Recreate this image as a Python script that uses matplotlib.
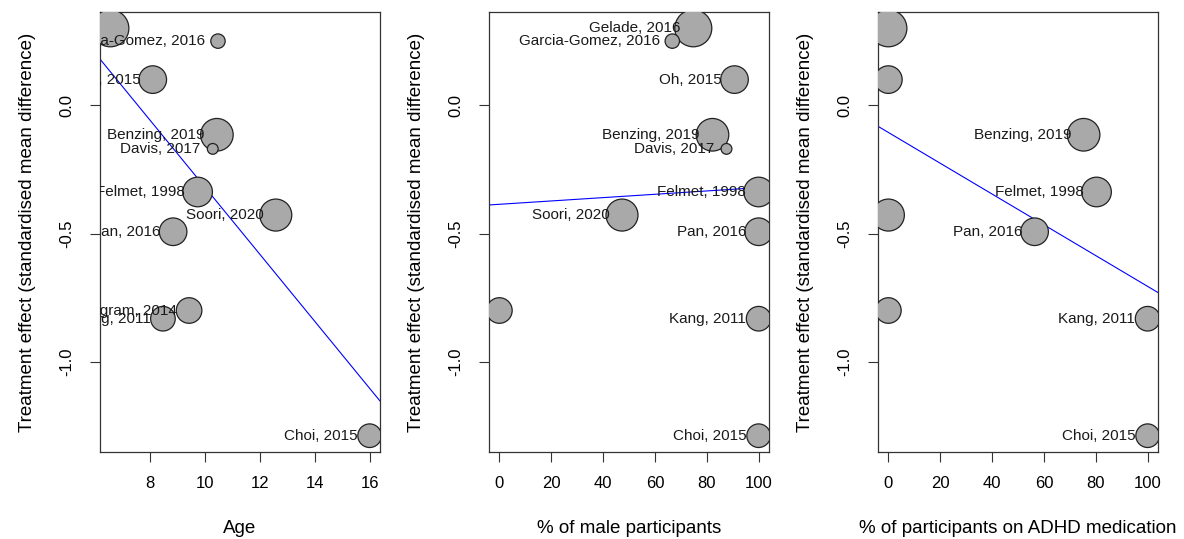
import matplotlib
matplotlib.use("Agg")
import matplotlib.pyplot as plt
import numpy as np

plt.rcParams['font.family'] = ['Liberation Sans', 'DejaVu Sans']

# study data
studies = ['Gelade, 2016', 'Garcia-Gomez, 2016', 'Oh, 2015', 'Benzing, 2019', 'Davis, 2017',
           'Felmet, 1998', 'Soori, 2020', 'Pan, 2016', 'Ingram, 2014', 'Kang, 2011', 'Choi, 2015']
smd = [0.30, 0.25, 0.10, -0.115, -0.17, -0.338, -0.428, -0.493, -0.80, -0.832, -1.288]
age = [6.56, 10.47, 8.10, 10.43, 10.28, 9.73, 12.57, 8.84, 9.42, 8.47, 15.98]
male_pct = [74.8, 66.7, 90.7, 82.2, 87.6, 100, 47.3, 100, 0, 100, 100]
adhd_med_pct = [0, np.nan, 0, 75.3, np.nan, 80.3, 0, 56.4, 0, 100, 100]
weight = [18.5, 7.2, 13.8, 16.3, 5.4, 14.8, 16.0, 13.8, 12.8, 12.3, 11.8]  # relative bubble weight

# meta-regression fits (intercept, slope)
fit_age = (0.99, -0.131)
fit_male = (-0.386, 0.00065)
fit_med = (-0.106, -0.0060)

panels = [
    (age, fit_age, 'Age', [8, 10, 12, 14, 16]),
    (male_pct, fit_male, '% of male participants', [0, 20, 40, 60, 80, 100]),
    (adhd_med_pct, fit_med, '% of participants on ADHD medication', [0, 20, 40, 60, 80, 100]),
]

fig = plt.figure(figsize=(11.84, 5.39), dpi=100)
lefts = [100, 489, 878]
W, H = 1184, 539

for (xvals, fit, xlab, xticks), left in zip(panels, lefts):
    ax = fig.add_axes([left / W, 1 - 452 / H, 280 / W, 440 / H])
    x = np.array(xvals, dtype=float)
    y = np.array(smd)
    ok = ~np.isnan(x)
    sizes = (np.array(weight) * 2 * 0.72) ** 2
    ax.scatter(x[ok], y[ok], s=sizes[ok], c='#a9a9a9', edgecolors='#222222', linewidths=0.9, zorder=3)
    # labels sit left of each bubble; the ones at the far left fall outside the plot region
    for name, xi, yi, keep in zip(studies, x, y, ok):
        if keep and xi > np.nanmin(x):
            ax.annotate(name, (xi, yi), xytext=(-9, 0), textcoords='offset points',
                        ha='right', va='center', fontsize=11, color='#1a1a1a',
                        clip_on=True, zorder=4)
    ax.axline((0, fit[0]), slope=fit[1], color='blue', lw=0.8, zorder=2)

    xr = np.nanmax(x) - np.nanmin(x)
    ax.set_xlim(np.nanmin(x) - 0.04 * xr, np.nanmax(x) + 0.04 * xr)
    yr = max(smd) - min(smd)
    ax.set_ylim(min(smd) - 0.04 * yr, max(smd) + 0.04 * yr)
    ax.set_xticks(xticks)
    ax.set_yticks([0.0, -0.5, -1.0])
    ax.set_yticklabels(['0.0', '-0.5', '-1.0'])
    ax.tick_params(direction='out', length=7.2, width=0.8, color='#333333', labelsize=12)
    ax.tick_params(axis='x', pad=10)
    ax.tick_params(axis='y', pad=11)
    for lab in ax.get_yticklabels():
        lab.set_rotation(90)
        lab.set_va('center')
    for sp in ax.spines.values():
        sp.set_linewidth(0.9)
        sp.set_color('#333333')
    ax.set_xlabel(xlab, fontsize=13.5, labelpad=21)
    ax.set_ylabel('Treatment effect (standardised mean difference)', fontsize=13.5, labelpad=17)

fig.savefig('out.png', dpi=100)
